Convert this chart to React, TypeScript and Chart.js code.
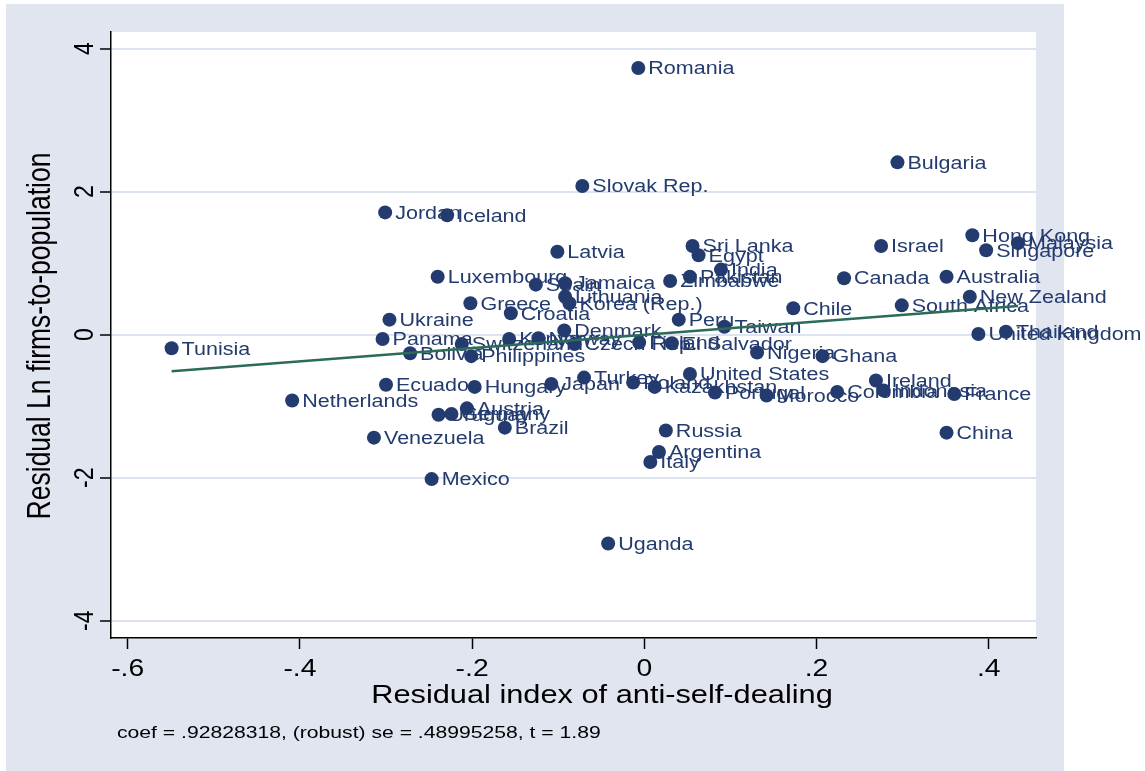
import React, { useEffect, useRef } from "react";
import { Chart, registerables } from "chart.js";
Chart.register(...registerables);

const countries = [
  "Romania", "Bulgaria", "Slovak Rep.", "Jordan", "Iceland", "Latvia", "Sri Lanka", "Egypt",
  "India", "Pakistan", "Zimbabwe", "Luxembourg", "Spain", "Jamaica", "Lithuania", "Korea (Rep.)",
  "Greece", "Croatia", "Ukraine", "Peru", "Taiwan", "Denmark", "Panama", "Bolivia", "Philippines",
  "Switzerland", "Kenya", "Norway", "Czech Rep.", "Finland", "El Salvador", "Nigeria", "Ghana",
  "Chile", "Canada", "Israel", "Hong Kong", "Singapore", "Malaysia", "Australia", "New Zealand",
  "South Africa", "United Kingdom", "Thailand", "Ireland", "Indonesia", "Colombia", "France",
  "China", "Tunisia", "Netherlands", "Venezuela", "Mexico", "Ecuador", "Hungary", "Japan",
  "Turkey", "Poland", "Kazakhstan", "United States", "Portugal", "Morocco", "Russia",
  "Argentina", "Italy", "Uganda", "Uruguay", "Germany", "Austria", "Brazil",
];
const xValues = [
  -0.007, 0.294, -0.072, -0.301, -0.229, -0.101, 0.056, 0.063,
  0.089, 0.053, 0.030, -0.240, -0.126, -0.092, -0.092, -0.087,
  -0.202, -0.155, -0.296, 0.040, 0.093, -0.093, -0.304, -0.272, -0.201,
  -0.212, -0.157, -0.123, -0.081, -0.006, 0.032, 0.131, 0.207,
  0.173, 0.232, 0.275, 0.381, 0.397, 0.434, 0.351, 0.378,
  0.299, 0.388, 0.420, 0.269, 0.278, 0.224, 0.360,
  0.351, -0.549, -0.409, -0.314, -0.247, -0.300, -0.197, -0.108,
  -0.070, -0.013, 0.012, 0.053, 0.082, 0.142, 0.025,
  0.017, 0.007, -0.042, -0.239, -0.224, -0.206, -0.162,
];
const yValues = [
  3.73, 2.41, 2.08, 1.71, 1.67, 1.16, 1.24, 1.11,
  0.91, 0.81, 0.75, 0.81, 0.70, 0.72, 0.53, 0.44,
  0.44, 0.30, 0.21, 0.21, 0.11, 0.06, -0.06, -0.26, -0.30,
  -0.13, -0.06, -0.05, -0.13, -0.11, -0.12, -0.25, -0.30,
  0.37, 0.79, 1.24, 1.39, 1.18, 1.28, 0.81, 0.53,
  0.41, 0.01, 0.04, -0.64, -0.78, -0.80, -0.83,
  -1.37, -0.19, -0.92, -1.44, -2.02, -0.70, -0.73, -0.69,
  -0.60, -0.67, -0.73, -0.55, -0.81, -0.85, -1.34,
  -1.64, -1.78, -2.92, -1.12, -1.11, -1.03, -1.30,
];
const fitX = [-0.549, 0.434];
const fitY = [-0.51, 0.40];
const xTicks = [-0.6, -0.4, -0.2, 0, 0.2, 0.4];
const xTickLabels = ["-.6", "-.4", "-.2", "0", ".2", ".4"];
const yTicks = [-4, -2, 0, 2, 4];
const yTickLabels = ["-4", "-2", "0", "2", "4"];
const xTitle = "Residual index of anti-self-dealing";
const yTitle = "Residual Ln firms-to-population";
const noteText = "coef = .92828318, (robust) se = .48995258, t = 1.89";

const FONT = '"Liberation Sans", Arial, Helvetica, sans-serif';
const NAVY = "#233b6e";
const GREEN = "#2b6b58";
const BG = "#e0e5f0";
const GRID = "#dde3ef";
const SX = 1.23; // horizontal stretch of the reference's text

function drawText(
  ctx: CanvasRenderingContext2D, text: string, x: number, y: number, size: number,
  align: CanvasTextAlign, color: string, rotate = false
) {
  ctx.save();
  ctx.translate(x, y);
  if (rotate) {
    ctx.rotate(-Math.PI / 2);
    ctx.scale(1, SX);
  } else {
    ctx.scale(SX, 1);
  }
  ctx.font = `${size}px ${FONT}`;
  ctx.fillStyle = color;
  ctx.textAlign = align;
  ctx.textBaseline = "alphabetic";
  ctx.fillText(text, 0, 0);
  ctx.restore();
}

const framePlugin = {
  id: "frame",
  beforeDraw(chart: any) {
    const { ctx, chartArea } = chart;
    ctx.save();
    ctx.fillStyle = "#ffffff";
    ctx.fillRect(0, 0, chart.width, chart.height);
    ctx.fillStyle = BG;
    ctx.fillRect(6, 4, 1058, 767);
    ctx.fillStyle = "#ffffff";
    ctx.fillRect(chartArea.left, chartArea.top, chartArea.right - chartArea.left, chartArea.bottom - chartArea.top);
    ctx.restore();
  },
  afterDatasetDraw(chart: any, args: any) {
    if (args.index !== 1) return;
    const { ctx } = chart;
    const meta = chart.getDatasetMeta(1);
    meta.data.forEach((el: any, i: number) => {
      drawText(ctx, countries[i], el.x + 10, el.y + 6.3, 17.5, "left", NAVY);
    });
  },
  afterDraw(chart: any) {
    const { ctx } = chart;
    const xs = chart.scales.x;
    const ys = chart.scales.y;
    xTicks.forEach((v, i) => {
      drawText(ctx, xTickLabels[i], xs.getPixelForValue(v), 676, 23, "center", "#000");
    });
    yTicks.forEach((v, i) => {
      drawText(ctx, yTickLabels[i], 93, ys.getPixelForValue(v), 23, "center", "#000", true);
    });
    drawText(ctx, xTitle, 602, 703, 25, "center", "#000");
    drawText(ctx, yTitle, 50, 336, 26.5, "center", "#000", true);
    drawText(ctx, noteText, 117, 738, 17.2, "left", "#000");
  },
};

export default function App() {
  const ref = useRef<HTMLCanvasElement | null>(null);
  useEffect(() => {
    if (!ref.current) return;
    const chart = new Chart(ref.current, {
      type: "scatter",
      data: {
        datasets: [
          {
            type: "line",
            data: fitX.map((x, i) => ({ x, y: fitY[i] })),
            borderColor: GREEN,
            borderWidth: 2.5,
            pointRadius: 0,
            fill: false,
            tension: 0,
            order: 1,
          } as any,
          {
            type: "scatter",
            data: xValues.map((x, i) => ({ x, y: yValues[i] })),
            backgroundColor: NAVY,
            borderWidth: 0,
            pointRadius: 7,
            order: 2,
          } as any,
        ],
      },
      options: {
        responsive: false,
        devicePixelRatio: 1,
        animation: false,
        layout: { padding: { left: 0, top: 32, right: 109, bottom: 0 } },
        plugins: { legend: { display: false }, tooltip: { enabled: false } },
        scales: {
          x: {
            type: "linear",
            min: -0.6194,
            max: 0.4549,
            afterBuildTicks: (s: any) => { s.ticks = xTicks.map((v) => ({ value: v })); },
            afterFit: (s: any) => { s.height = 133; },
            ticks: { display: false },
            grid: { drawOnChartArea: false, drawTicks: true, tickLength: 11, tickColor: "#000", tickWidth: 1.5 },
            border: { display: true, color: "#000", width: 1.5 },
          },
          y: {
            type: "linear",
            min: -4.242,
            max: 4.233,
            afterBuildTicks: (s: any) => { s.ticks = yTicks.map((v) => ({ value: v })); },
            afterFit: (s: any) => { s.width = 111; },
            ticks: { display: false },
            grid: { color: GRID, lineWidth: 2, drawOnChartArea: true, drawTicks: true, tickLength: 11, tickColor: "#000", tickWidth: 1.5 },
            border: { display: true, color: "#000", width: 1.5 },
          },
        },
      },
      plugins: [framePlugin],
    } as any);
    return () => chart.destroy();
  }, []);
  return (
    <div style={{ position: "absolute", left: 0, top: 0, width: 1145, height: 771, background: "#fff" }}>
      <canvas ref={ref} width={1145} height={771} style={{ display: "block", width: 1145, height: 771 }} />
    </div>
  );
}
